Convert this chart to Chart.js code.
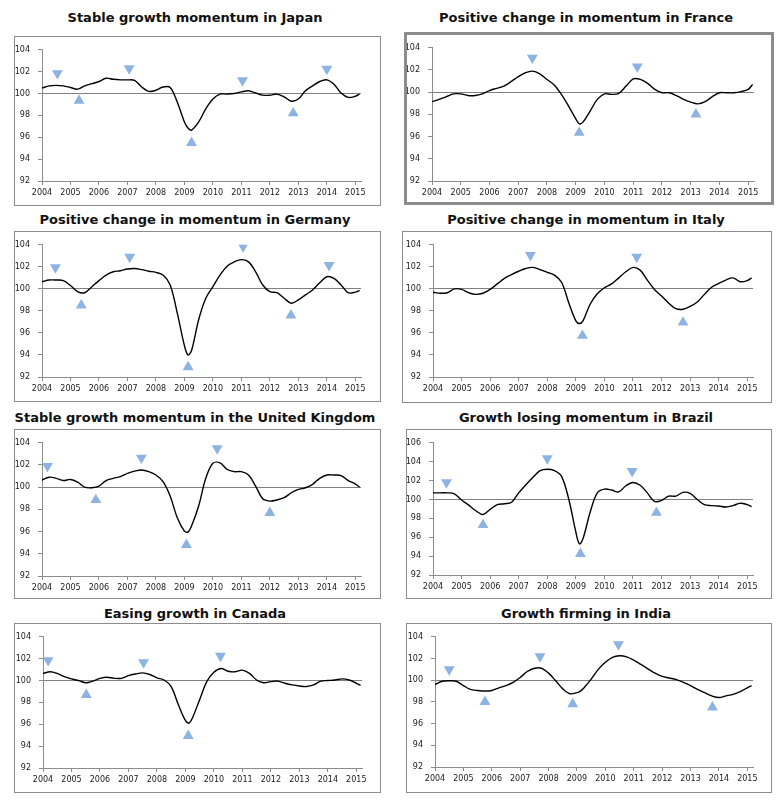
<!DOCTYPE html>
<html>
<head>
<meta charset="utf-8">
<script src="https://cdn.jsdelivr.net/npm/chart.js@4.4.1/dist/chart.umd.min.js"></script>
<style>
  body { margin: 0; background: #fff; width: 781px; height: 808px; position: relative; overflow: hidden;
         font-family: "DejaVu Sans", Verdana, sans-serif; }
  .title { position: absolute; width: 380px; text-align: center; font-weight: bold; font-size: 13px;
           color: #111; transform: translateY(-50%); white-space: nowrap; }
  .box { position: absolute; border: 1px solid #8c8c8c; box-sizing: border-box; }
  .box canvas { position: absolute; left: 0; top: 0; }
</style>
</head>
<body>
<script>
// quarterly x positions (years), plus the 2009 trough and the point where the series stops
const years = [
  2004, 2004.25, 2004.5, 2004.75, 2005, 2005.25, 2005.5, 2005.75,
  2006, 2006.25, 2006.5, 2006.75, 2007, 2007.25, 2007.5, 2007.75,
  2008, 2008.25, 2008.5, 2008.75, 2009, 2009.125, 2009.25, 2009.5, 2009.75,
  2010, 2010.25, 2010.5, 2010.75, 2011, 2011.25, 2011.5, 2011.75,
  2012, 2012.25, 2012.5, 2012.75, 2013, 2013.25, 2013.5, 2013.75,
  2014, 2014.25, 2014.5, 2014.75, 2015, 2015.15
];
const yearTicks = [2004, 2005, 2006, 2007, 2008, 2009, 2010, 2011, 2012, 2013, 2014, 2015];

// Japan
const japanValues = [
  100.5, 100.7, 100.75, 100.7, 100.55, 100.4, 100.7, 100.9,
  101.1, 101.4, 101.3, 101.25, 101.25, 101.2, 100.6, 100.2,
  100.3, 100.6, 100.55, 99.2, 97.4, 96.85, 96.65, 97.4, 98.6,
  99.5, 99.95, 99.95, 100.0, 100.15, 100.25, 100.05, 99.85,
  99.85, 99.95, 99.7, 99.3, 99.5, 100.25, 100.7, 101.1,
  101.25, 100.85, 100.05, 99.65, 99.75, 99.95
];
const japanPeaks = [[2004.54, 101.85], [2007.06, 102.3], [2011.04, 101.2], [2014.0, 102.25]];
const japanTroughs = [[2005.3, 99.35], [2009.25, 95.5], [2012.82, 98.2]];

// France
const franceValues = [
  99.15, 99.35, 99.6, 99.85, 99.85, 99.7, 99.7, 99.85,
  100.15, 100.35, 100.55, 100.95, 101.4, 101.75, 101.9, 101.65,
  101.15, 100.65, 99.8, 98.75, 97.6, 97.15, 97.3, 98.3, 99.35,
  99.85, 99.8, 99.9, 100.55, 101.2, 101.15, 100.8, 100.25,
  99.95, 99.95, 99.7, 99.35, 99.1, 98.95, 99.15, 99.6,
  99.95, 99.95, 99.95, 100.05, 100.25, 100.7
];
const francePeaks = [[2007.49, 103.1], [2011.14, 102.3]];
const franceTroughs = [[2009.12, 96.35], [2013.18, 98.0]];

// Germany
const germanyValues = [
  100.65, 100.8, 100.8, 100.75, 100.3, 99.75, 99.65, 100.2,
  100.75, 101.25, 101.55, 101.65, 101.8, 101.85, 101.75, 101.6,
  101.5, 101.25, 100.35, 97.8, 94.85, 94.0, 94.4, 97.2, 99.15,
  100.2, 101.25, 102.05, 102.45, 102.65, 102.45, 101.55, 100.35,
  99.75, 99.65, 99.15, 98.7, 99.0, 99.45, 99.9, 100.55,
  101.1, 100.95, 100.35, 99.65, 99.7, 99.85
];
const germanyPeaks = [[2004.47, 101.95], [2007.08, 102.9], [2011.06, 103.85], [2014.08, 102.15]];
const germanyTroughs = [[2005.38, 98.5], [2009.13, 92.9], [2012.74, 97.6]];

// Italy
const italyValues = [
  99.7, 99.6, 99.65, 100.0, 99.95, 99.65, 99.5, 99.6,
  99.95, 100.45, 100.95, 101.3, 101.6, 101.85, 101.95, 101.75,
  101.5, 101.25, 100.6, 98.75, 97.1, 96.85, 97.1, 98.6, 99.55,
  100.1, 100.45, 101.0, 101.55, 101.95, 101.7, 100.8, 99.95,
  99.35, 98.7, 98.2, 98.15, 98.4, 98.8, 99.5, 100.15,
  100.5, 100.8, 101.0, 100.65, 100.75, 101.0
];
const italyPeaks = [[2007.41, 103.05], [2011.13, 102.9]];
const italyTroughs = [[2009.23, 95.75], [2012.75, 96.95]];

// United Kingdom
const ukValues = [
  100.65, 100.9, 100.8, 100.6, 100.7, 100.45, 100.0, 99.95,
  100.1, 100.6, 100.8, 100.95, 101.25, 101.45, 101.55, 101.4,
  101.1, 100.5, 99.2, 97.25, 96.05, 95.95, 96.5, 98.3, 100.8,
  102.15, 102.2, 101.6, 101.4, 101.4, 101.1, 100.1, 98.95,
  98.75, 98.85, 99.05, 99.5, 99.8, 99.95, 100.25, 100.8,
  101.1, 101.1, 101.05, 100.6, 100.3, 100.0
];
const ukPeaks = [[2004.19, 101.9], [2007.49, 102.65], [2010.15, 103.5]];
const ukTroughs = [[2005.89, 98.85], [2009.07, 94.8], [2012.0, 97.7]];

// Brazil
const brazilValues = [
  100.7, 100.7, 100.7, 100.6, 99.95, 99.4, 98.8, 98.4,
  98.95, 99.45, 99.55, 99.7, 100.7, 101.55, 102.35, 103.05,
  103.2, 103.05, 102.45, 100.05, 96.55, 95.3, 95.85, 98.65, 100.7,
  101.1, 101.0, 100.8, 101.45, 101.8, 101.5, 100.7, 99.8,
  99.9, 100.35, 100.35, 100.75, 100.65, 100.0, 99.45, 99.35,
  99.3, 99.2, 99.35, 99.6, 99.45, 99.25
];
const brazilPeaks = [[2004.47, 101.8], [2008.0, 104.35], [2010.97, 103.0]];
const brazilTroughs = [[2005.75, 97.3], [2009.16, 94.25], [2011.82, 98.6]];

// Canada
const canadaValues = [
  100.65, 100.8, 100.65, 100.35, 100.15, 100.0, 99.8, 99.95,
  100.2, 100.3, 100.2, 100.2, 100.45, 100.6, 100.7, 100.55,
  100.25, 100.05, 99.45, 97.8, 96.35, 96.1, 96.6, 98.25, 99.9,
  100.75, 101.1, 100.85, 100.8, 100.95, 100.65, 100.05, 99.8,
  99.9, 99.95, 99.75, 99.6, 99.5, 99.45, 99.6, 99.95,
  100.0, 100.05, 100.15, 100.05, 99.75, 99.55
];
const canadaPeaks = [[2004.18, 101.85], [2007.53, 101.65], [2010.23, 102.25]];
const canadaTroughs = [[2005.52, 98.7], [2009.1, 94.95]];

// India
const indiaValues = [
  99.6, 99.9, 99.95, 99.9, 99.5, 99.15, 99.05, 99.0,
  99.05, 99.3, 99.5, 99.8, 100.25, 100.8, 101.1, 101.1,
  100.65, 99.95, 99.2, 98.75, 98.85, 99.0, 99.3, 100.1, 101.0,
  101.65, 102.1, 102.25, 102.15, 101.85, 101.45, 101.05, 100.65,
  100.35, 100.2, 100.05, 99.8, 99.5, 99.15, 98.85, 98.55,
  98.4, 98.55, 98.7, 98.95, 99.3, 99.5
];
const indiaPeaks = [[2004.5, 101.0], [2007.7, 102.2], [2010.46, 103.3]];
const indiaTroughs = [[2005.76, 98.0], [2008.85, 97.8], [2013.77, 97.5]];

const baseLevel = 100;
const yMin = 92;

// page layout: box = [left, top, right, bottom], plot = chart area, titleX/titleY = title centre
const panels = [
  { title: "Stable growth momentum in Japan", values: japanValues, peaks: japanPeaks, troughs: japanTroughs,
    yMax: 104, box: [14, 36, 381, 206], plot: [42, 46, 361, 181], titleX: 195, titleY: 17 },
  { title: "Positive change in momentum in France", values: franceValues, peaks: francePeaks, troughs: franceTroughs,
    yMax: 104, box: [404, 32, 774, 205], plot: [432, 43, 754, 181], titleX: 586, titleY: 17, border: 3 },
  { title: "Positive change in momentum in Germany", values: germanyValues, peaks: germanyPeaks, troughs: germanyTroughs,
    yMax: 104, box: [14, 231, 381, 402], plot: [42, 243, 361, 377], titleX: 195, titleY: 219 },
  { title: "Positive change in momentum in Italy", values: italyValues, peaks: italyPeaks, troughs: italyTroughs,
    yMax: 104, box: [402, 231, 772, 403], plot: [433, 243, 753, 377], titleX: 586, titleY: 219 },
  { title: "Stable growth momentum in the United Kingdom", values: ukValues, peaks: ukPeaks, troughs: ukTroughs,
    yMax: 104, box: [14, 429, 381, 599], plot: [42, 441, 361, 576], titleX: 195, titleY: 417 },
  { title: "Growth losing momentum in Brazil", values: brazilValues, peaks: brazilPeaks, troughs: brazilTroughs,
    yMax: 106, box: [406, 429, 772, 599], plot: [433, 442, 753, 575], titleX: 586, titleY: 417 },
  { title: "Easing growth in Canada", values: canadaValues, peaks: canadaPeaks, troughs: canadaTroughs,
    yMax: 104, box: [14, 623, 381, 793], plot: [43, 634, 362, 768], titleX: 195, titleY: 613 },
  { title: "Growth firming in India", values: indiaValues, peaks: indiaPeaks, troughs: indiaTroughs,
    yMax: 104, box: [406, 623, 772, 793], plot: [435, 633, 753, 767], titleX: 586, titleY: 613 }
];

const axisGrey = "#8c8c8c";
const triangleBlue = "#8db3e2";
const tickFont = { family: "DejaVu Sans", size: 8 };

function drawPanel(p) {
  const t = document.createElement("div");
  t.className = "title";
  t.textContent = p.title;
  t.style.left = (p.titleX - 190) + "px";
  t.style.top = p.titleY + "px";
  document.body.appendChild(t);

  const bw = p.border || 1;
  const [bl, bt, br, bb] = p.box;
  const box = document.createElement("div");
  box.className = "box";
  box.style.left = bl + "px";
  box.style.top = bt + "px";
  box.style.width = (br - bl) + "px";
  box.style.height = (bb - bt) + "px";
  box.style.borderWidth = bw + "px";
  document.body.appendChild(box);

  const cl = bl + bw, ct = bt + bw, cw = br - bl - 2 * bw, ch = bb - bt - 2 * bw;
  const canvas = document.createElement("canvas");
  canvas.width = cw;
  canvas.height = ch;
  canvas.style.width = cw + "px";
  canvas.style.height = ch + "px";
  box.appendChild(canvas);

  const [pl, pt, pr, pb] = p.plot;

  new Chart(canvas, {
    type: "line",
    data: {
      datasets: [
        {
          data: years.map((x, i) => ({ x: x, y: p.values[i] })),
          borderColor: "#000",
          borderWidth: 1.4,
          pointRadius: 0,
          tension: 0.35,
          fill: false,
          order: 2
        },
        {
          data: p.peaks.map(d => ({ x: d[0], y: d[1] })),
          showLine: false,
          pointStyle: "triangle",
          rotation: 180,
          pointRadius: 6.3,
          backgroundColor: triangleBlue,
          borderWidth: 0,
          order: 1
        },
        {
          data: p.troughs.map(d => ({ x: d[0], y: d[1] })),
          showLine: false,
          pointStyle: "triangle",
          pointRadius: 6.3,
          backgroundColor: triangleBlue,
          borderWidth: 0,
          order: 1
        }
      ]
    },
    options: {
      responsive: false,
      animation: false,
      events: [],
      layout: { padding: { top: pt - ct, right: cl + cw - pr, left: 0, bottom: 0 } },
      plugins: { legend: { display: false }, tooltip: { enabled: false } },
      scales: {
        x: {
          type: "linear",
          min: years[0],
          max: years[years.length - 1] + 0.05,
          afterFit: (s) => { s.height = ct + ch - pb; },
          afterBuildTicks: (s) => { s.ticks = yearTicks.map(v => ({ value: v })); },
          grid: { drawOnChartArea: false, color: axisGrey, tickLength: 4 },
          border: { display: true, color: axisGrey },
          ticks: {
            autoSkip: false, maxRotation: 0, padding: 3,
            font: tickFont, color: "#1a1a1a",
            callback: (v) => String(Math.round(v))
          }
        },
        y: {
          min: yMin,
          max: p.yMax,
          afterFit: (s) => { s.width = pl - cl; },
          grid: {
            color: (ctx) => (ctx.tick && ctx.tick.value === baseLevel ? "#808080" : "rgba(0,0,0,0)"),
            tickColor: axisGrey,
            tickLength: 4
          },
          border: { display: true, color: axisGrey },
          ticks: { stepSize: 2, padding: 8, font: tickFont, color: "#1a1a1a" }
        }
      }
    }
  });
}

panels.forEach(drawPanel);
</script>
</body>
</html>
